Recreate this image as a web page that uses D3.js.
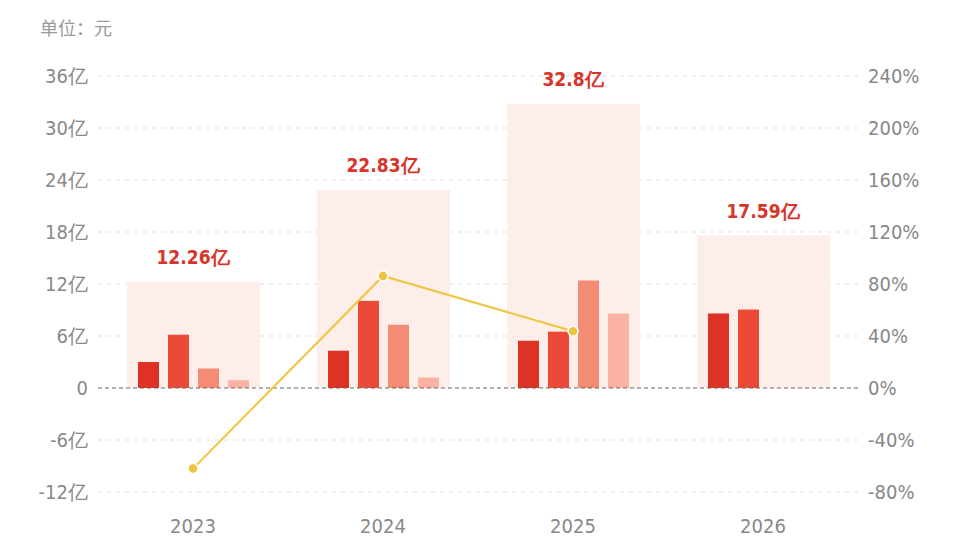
<!DOCTYPE html>
<html><head><meta charset="utf-8">
<script src="https://cdn.jsdelivr.net/npm/d3@7/dist/d3.min.js"></script>
<style>body{margin:0;background:#fff;}svg{display:block;}</style>
</head><body><svg id="c" width="960" height="540"></svg>
<script>
const years = ["2023","2024","2025","2026"];
const totals = [12.26, 22.83, 32.8, 17.59];
const totalLabels = ["12.26亿","22.83亿","32.8亿","17.59亿"];
const q1 = [3.0, 4.3, 5.45, 8.6];
const q2 = [6.15, 10.05, 6.5, 9.05];
const q3 = [2.25, 7.3, 12.4, null];
const q4 = [0.9, 1.2, 8.6, null];
const growth = [-62, 86.2, 43.7, null];
const leftTicks = [-12,-6,0,6,12,18,24,30,36];
const rightTicks = [-80,-40,0,40,80,120,160,200,240];
const unitLabel = "单位：元";

const svg = d3.select("#c");
const x0 = 98, x1 = 858;
const y = d3.scaleLinear().domain([-12,36]).range([492,76]);
const yR = d3.scaleLinear().domain([-80,240]).range([492,76]);
const x = d3.scaleBand().domain(years).range([x0,x1]).paddingInner(0).paddingOuter(0);
const quarters = [q1,q2,q3,q4];
const qColors = ["#de3324","#ec4a39","#f48b75","#fab3a2"];
const xq = d3.scaleBand().domain([0,1,2,3]).range([-55,56]).paddingInner(0.3).paddingOuter(0);
const font = "'DejaVu Sans Condensed','DejaVu Sans',sans-serif";

svg.append("text").attr("x",40).attr("y",35).attr("fill","#999")
  .attr("font-family","'Noto Sans CJK SC',sans-serif").attr("font-size",18).text(unitLabel);

// grid
svg.append("g").selectAll("line").data(leftTicks.filter(d=>d!==0)).join("line")
  .attr("x1",x0).attr("x2",x1).attr("y1",d=>y(d)).attr("y2",d=>y(d))
  .attr("stroke","#e0e0e0").attr("stroke-dasharray","4,5").attr("stroke-width",1);

// left axis
const la = svg.append("g").attr("transform",`translate(${x0-10},0)`)
  .call(d3.axisLeft(y).tickValues(leftTicks).tickSize(0).tickPadding(0)
  .tickFormat(d=> d===0 ? "0" : d+"亿"));
la.select(".domain").remove();
la.selectAll("text").attr("fill","#888").attr("font-size",20).attr("font-family",font);

// right axis
const ra = svg.append("g").attr("transform",`translate(${x1+10},0)`)
  .call(d3.axisRight(yR).tickValues(rightTicks).tickSize(0).tickPadding(0)
  .tickFormat(d=>d+"%"));
ra.select(".domain").remove();
ra.selectAll("text").attr("fill","#888").attr("font-size",20).attr("font-family",font);

// background total bars
const bgW = 133;
svg.append("g").selectAll("rect").data(years).join("rect")
  .attr("x",d=>x(d)+x.bandwidth()/2-bgW/2+0.5).attr("width",bgW)
  .attr("y",(d,i)=>y(totals[i])).attr("height",(d,i)=>y(0)-y(totals[i]))
  .attr("fill","#fdeee9");

// quarter bars
quarters.forEach((arr,qi)=>{
  svg.append("g").selectAll("rect").data(years.map((yr,i)=>({yr,v:arr[i]})).filter(d=>d.v!=null)).join("rect")
    .attr("x",d=>x(d.yr)+x.bandwidth()/2+xq(qi)).attr("width",xq.bandwidth())
    .attr("y",d=>y(d.v)).attr("height",d=>y(0)-y(d.v)).attr("fill",qColors[qi]);
});

// zero line
svg.append("line").attr("x1",x0).attr("x2",x1).attr("y1",y(0)).attr("y2",y(0))
  .attr("stroke","#666").attr("stroke-dasharray","4,3").attr("stroke-width",1.2);

// total labels
svg.append("g").selectAll("text").data(years).join("text")
  .attr("x",d=>x(d)+x.bandwidth()/2).attr("y",(d,i)=>y(totals[i])-18)
  .attr("text-anchor","middle").attr("fill","#d9342a").attr("font-weight","bold")
  .attr("font-size",19).attr("font-family",font).text((d,i)=>totalLabels[i]);

// growth line
const gData = years.map((yr,i)=>({yr,v:growth[i]})).filter(d=>d.v!=null);
svg.append("path").datum(gData)
  .attr("d",d3.line().x(d=>x(d.yr)+x.bandwidth()/2).y(d=>yR(d.v)))
  .attr("fill","none").attr("stroke","#f0c53f").attr("stroke-width",2);
svg.append("g").selectAll("circle").data(gData).join("circle")
  .attr("cx",d=>x(d.yr)+x.bandwidth()/2).attr("cy",d=>yR(d.v)).attr("r",5)
  .attr("fill","#ecc43f").attr("stroke","#fff").attr("stroke-width",1.5);

// x labels
svg.append("g").selectAll("text").data(years).join("text")
  .attr("x",d=>x(d)+x.bandwidth()/2).attr("y",533)
  .attr("text-anchor","middle").attr("fill","#888")
  .attr("font-size",20).attr("font-family",font).text(d=>d);
</script></body></html>
